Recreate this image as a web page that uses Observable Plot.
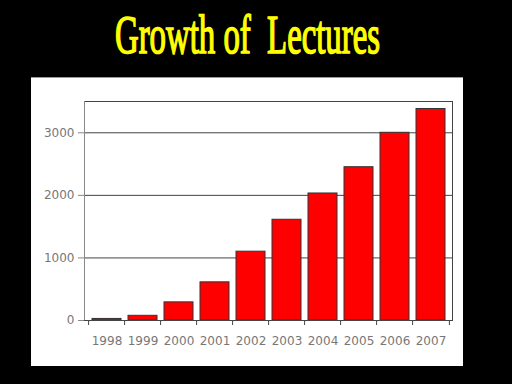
<!DOCTYPE html>
<html>
<head>
<meta charset="utf-8">
<script src="https://cdn.jsdelivr.net/npm/d3@7"></script>
<script src="https://cdn.jsdelivr.net/npm/@observablehq/plot@0.6"></script>
<style>
  html, body { margin: 0; padding: 0; background: #000; width: 512px; height: 384px; overflow: hidden; }
  #title { position: absolute; left: 115px; top: 4px; font-family: "Liberation Serif", "Times New Roman", serif;
           font-weight: normal; font-size: 55px; line-height: 62px; color: #ffff00; white-space: pre;
           -webkit-text-stroke: 1.6px #ffff00; transform-origin: 0 0; }
  #panel { position: absolute; left: 31px; top: 77px; width: 432px; height: 289px; background: #fff; border-top: 1px solid #999; box-sizing: border-box; }
  #chart { position: absolute; left: 31px; top: 77px; }
</style>
</head>
<body>
<div id="title">Growth of  Lectures</div>
<div id="panel"></div>
<div id="chart"></div>
<script>
const years = ["1998","1999","2000","2001","2002","2003","2004","2005","2006","2007"];
const lectures = [25, 75, 290, 610, 1100, 1610, 2030, 2450, 3000, 3380];
const yTicks = [0, 1000, 2000, 3000];
const yMax = 3500;

const title = document.getElementById("title");
const w = title.getBoundingClientRect().width;
title.style.transform = `scaleX(${265 / w})`;

const data = years.map((y, i) => ({year: y, value: lectures[i]}));
const step = (452 - 84) / years.length;

const chart = Plot.plot({
  width: 432,
  height: 289,
  marginLeft: 53,
  marginRight: 11,
  marginTop: 24,
  marginBottom: 46,
  style: {background: "transparent", fontFamily: "DejaVu Sans, sans-serif", fontSize: "12px", color: "#666"},
  x: {domain: years, paddingInner: 0.2, paddingOuter: 0.1, label: null},
  y: {domain: [0, yMax], label: null},
  marks: [
    Plot.ruleY(yTicks.filter(d => d > 0), {stroke: "#444", strokeWidth: 1}),
    Plot.ruleY([yMax], {stroke: "#444", strokeWidth: 1}),
    Plot.frame({anchor: "right", stroke: "#444"}),
    Plot.frame({anchor: "left", stroke: "#888"}),
    Plot.barY(data, {x: "year", y: "value", fill: "#ff0000", stroke: "#333", strokeWidth: 1}),
    Plot.ruleY([0], {stroke: "#444"}),
    Plot.axisY({ticks: yTicks, tickSize: 6, tickPadding: 4, stroke: "#888", fill: "#777", tickFormat: d => String(d)}),
    Plot.axisX({tickSize: 0, tickPadding: 16, fill: "#777"}),
    Plot.axisX({tickSize: 5, text: null, dx: -step / 2, stroke: "#444"}),
    Plot.axisX([years[years.length - 1]], {tickSize: 5, text: null, dx: step / 2, stroke: "#444"})
  ]
});
document.getElementById("chart").appendChild(chart);
</script>
</body>
</html>
